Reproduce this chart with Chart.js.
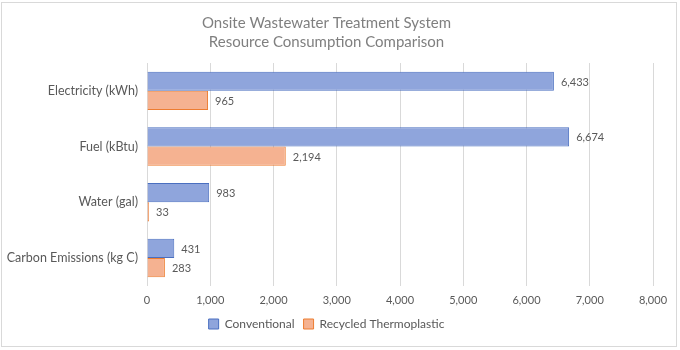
<!DOCTYPE html>
<html><head><meta charset="utf-8">
<script src="https://cdn.jsdelivr.net/npm/chart.js@4"></script>
<style>
html,body{margin:0;padding:0;background:#fff;}
#wrap{position:absolute;left:1px;top:2px;width:676px;height:345px;border:1px solid #d9d9d9;box-sizing:border-box;}
canvas{position:absolute;left:0;top:0;}
</style></head>
<body>
<div id="wrap"></div>
<canvas id="c" width="680" height="350"></canvas>
<script>
const categories = ["Electricity (kWh)", "Fuel (kBtu)", "Water (gal)", "Carbon Emissions (kg C)"];
const conventional = [6433, 6674, 983, 431];
const recycled = [965, 2194, 33, 283];
const seriesNames = ["Conventional", "Recycled Thermoplastic"];
const titleLines = ["Onsite Wastewater Treatment System", "Resource Consumption Comparison"];
const FONT = "Lato, 'Open Sans', sans-serif";
const fmt = v => v.toLocaleString('en-US');

const labelPlugin = {
  id: 'valLabels',
  afterDatasetsDraw(chart) {
    const ctx = chart.ctx;
    ctx.save();
    ctx.font = "11px " + FONT;
    ctx.fillStyle = "#595959";
    ctx.textAlign = "left";
    ctx.textBaseline = "middle";
    chart.data.datasets.forEach((ds, i) => {
      const meta = chart.getDatasetMeta(i);
      meta.data.forEach((el, j) => {
        ctx.fillText(fmt(ds.data[j]), el.x + 7, el.y + 1);
      });
    });
    ctx.restore();
  }
};

new Chart(document.getElementById('c'), {
  type: 'bar',
  data: {
    labels: categories,
    datasets: [
      { label: seriesNames[0], data: conventional, backgroundColor: '#8fa5dc', borderColor: '#4a6fc0', borderWidth: 1 },
      { label: seriesNames[1], data: recycled, backgroundColor: '#f5b291', borderColor: '#ed7d31', borderWidth: 1 }
    ]
  },
  options: {
    indexAxis: 'y',
    responsive: false,
    animation: false,
    devicePixelRatio: 1,
    categoryPercentage: 0.69,
    barPercentage: 1,
    layout: { padding: { left: 0, right: 27, top: 9, bottom: 10 } },
    plugins: {
      title: {
        display: true, text: titleLines, color: '#7f7f7f',
        font: { family: FONT, size: 15, weight: 'normal', lineHeight: 1.3 },
        padding: { top: 4, bottom: 11 }
      },
      legend: {
        position: 'bottom',
        labels: { color: '#595959', font: { family: FONT, size: 12 }, boxWidth: 10, boxHeight: 10, padding: 9 }
      },
      tooltip: { enabled: false }
    },
    scales: {
      x: {
        min: 0, max: 8000,
        ticks: { stepSize: 1000, color: '#595959', font: { family: FONT, size: 11 }, callback: v => fmt(v), padding: 8 },
        grid: { color: '#d9d9d9', drawTicks: false },
        border: { display: false },
        afterFit(s) { s.height -= 6; }
      },
      y: {
        ticks: { color: '#595959', font: { family: FONT, size: 12.5 }, padding: 9 },
        grid: { display: false, drawTicks: false },
        border: { display: false },
        afterFit(s) { s.width = 147; }
      }
    }
  },
  plugins: [labelPlugin]
});
</script>
</body></html>
